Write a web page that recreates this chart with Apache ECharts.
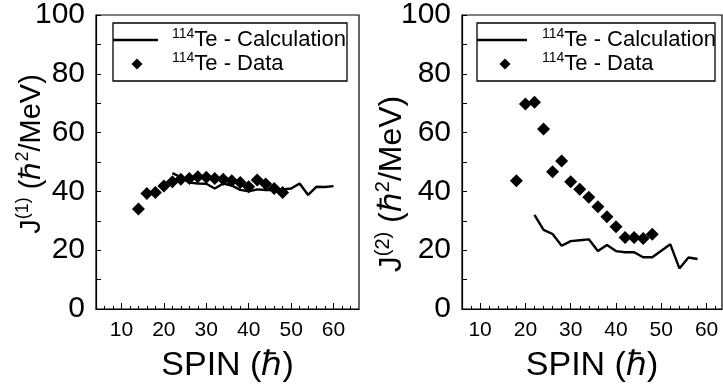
<!DOCTYPE html>
<html>
<head>
<meta charset="utf-8">
<script src="https://cdn.jsdelivr.net/npm/echarts@6/dist/echarts.min.js"></script>
<style>
 html, body { margin: 0; padding: 0; background: #fff; }
 #chart { width: 723px; height: 391px; }
</style>
</head>
<body>
<div id="chart"></div>
<script>
// J(1) panel
const spinData1 = [14, 16, 18, 20, 22, 24, 26, 28, 30, 32, 34, 36, 38, 40, 42, 44, 46, 48]
const j1Data = [34, 39.3, 39.6, 41.8, 43.3, 44.1, 44.4, 45, 44.8, 44.4, 44.1, 43.6, 43, 41.6, 43.9, 42.5, 41, 39.6]
const spinCalc1 = [22, 24, 26, 28, 30, 32, 34, 36, 38, 40, 42, 44, 46, 48, 50, 52, 54, 56, 58, 60]
const j1Calc = [46.2, 44.8, 43, 42.7, 42.6, 41, 42.7, 42, 40.5, 40, 40.7, 40.5, 40.5, 40.7, 41, 42.7, 38.8, 41.6, 41.5, 41.8]

// J(2) panel
const spinData2 = [18, 20, 22, 24, 26, 28, 30, 32, 34, 36, 38, 40, 42, 44, 46, 48]
const j2Data = [43.6, 69.7, 70.3, 61.2, 46.7, 50.3, 43.3, 40.7, 38, 34.8, 31.4, 28, 24.3, 24.3, 24, 25.4]
const spinCalc2 = [22, 24, 26, 28, 30, 32, 34, 36, 38, 40, 42, 44, 46, 48, 50, 52, 54, 56, 58]
const j2Calc = [32, 26.9, 25.5, 21.5, 23.1, 23.4, 23.7, 19.7, 21.8, 19.7, 19.3, 19.3, 17.6, 17.6, 19.8, 22, 13.8, 17.5, 17]

const xLabels = [10, 20, 30, 40, 50, 60]
const yTicks = [0, 20, 40, 60, 80, 100]
const calcName = 'Te - Calculation'
const dataName = 'Te - Data'
const isotope = '114'

const font = '"Liberation Sans", Arial, Helvetica, sans-serif'
const zip = (xs, ys) => xs.map((x, i) => [x, ys[i]])
const minorX = []
for (let s = 4; s <= 66; s += 2) minorX.push(s)

const xAxisFor = function (gridIndex, min, max) {
 return [{
  type: 'value',
  gridIndex: gridIndex,
  min: min,
  max: max,
  position: 'bottom',
  name: 'SPIN (ℏ)',
  nameLocation: 'middle',
  nameGap: 40,
  nameTextStyle: { fontFamily: font, fontSize: 34, color: '#000' },
  axisLine: { show: true, onZero: false, lineStyle: { color: '#000', width: 1.2 } },
  axisTick: { show: true, inside: true, length: 3, customValues: minorX.filter(v => v > min && v < max), lineStyle: { color: '#000' } },
  axisLabel: { customValues: xLabels, fontFamily: font, fontSize: 21, color: '#000', margin: 11 },
  splitLine: { show: false }
 }, {
  type: 'value',
  gridIndex: gridIndex,
  min: min,
  max: max,
  position: 'bottom',
  offset: 0,
  axisLine: { show: false },
  axisTick: { show: true, inside: true, length: 6, customValues: xLabels, lineStyle: { color: '#000' } },
  axisLabel: { show: false },
  splitLine: { show: false }
 }]
}

const yAxisFor = function (gridIndex) {
 return {
  type: 'value',
  gridIndex: gridIndex,
  min: 0,
  max: 100,
  interval: 20,
  axisLine: { show: true, lineStyle: { color: '#000', width: 1.2 } },
  axisTick: { show: true, inside: true, length: 5, lineStyle: { color: '#000' } },
  minorTick: { show: true, splitNumber: 2, length: 5, lineStyle: { color: '#000' } },
  axisLabel: { customValues: yTicks, fontFamily: font, fontSize: 30, color: '#000', margin: 11 },
  splitLine: { show: false }
 }
}

// rotated y titles with superscripts
const yTitle = function (sup, x, y, size) {
 return {
  type: 'text',
  x: x,
  y: y,
  rotation: Math.PI / 2,
  style: {
   text: '{b|J}{s|(' + sup + ')}{b| (ℏ}{s|2}{b|/MeV)}',
   align: 'center',
   verticalAlign: 'middle',
   rich: {
    b: { fontFamily: font, fontSize: size, color: '#000', verticalAlign: 'bottom', lineHeight: size + 3 },
    s: { fontFamily: font, fontSize: Math.round(size * 0.62), color: '#000', verticalAlign: 'top', lineHeight: size + 3 }
   }
  }
 }
}

const legendFor = function (x0, x1, lineEnd, diamondX, textX) {
 const r = 5.5
 const rich = {
  s: { fontFamily: font, fontSize: 14, color: '#000', verticalAlign: 'top', lineHeight: 24 },
  b: { fontFamily: font, fontSize: 22, color: '#000', verticalAlign: 'bottom', lineHeight: 24 }
 }
 return {
  type: 'group',
  children: [
   { type: 'rect', shape: { x: x0, y: 23, width: x1 - x0, height: 58 }, style: { fill: '#fff', stroke: '#000', lineWidth: 1.3 }, z: 10 },
   { type: 'line', shape: { x1: x0, y1: 40, x2: lineEnd, y2: 40 }, style: { stroke: '#000', lineWidth: 2.6 }, z: 11 },
   { type: 'polygon', shape: { points: [[diamondX, 64 - r], [diamondX + r, 64], [diamondX, 64 + r], [diamondX - r, 64]] }, style: { fill: '#000' }, z: 11 },
   { type: 'text', x: textX, y: 39, style: { text: '{s|' + isotope + '}{b|' + calcName + '}', rich: rich, verticalAlign: 'middle' }, z: 11 },
   { type: 'text', x: textX, y: 63, style: { text: '{s|' + isotope + '}{b|' + dataName + '}', rich: rich, verticalAlign: 'middle' }, z: 11 }
  ]
 }
}

const lineSeries = function (idx, xs, ys) {
 return {
  name: calcName,
  type: 'line',
  xAxisIndex: idx * 2,
  yAxisIndex: idx,
  data: zip(xs, ys),
  showSymbol: false,
  symbol: 'none',
  lineStyle: { color: '#000', width: 2.4 },
  z: 3
 }
}
const dataSeries = function (idx, xs, ys) {
 return {
  name: dataName,
  type: 'scatter',
  xAxisIndex: idx * 2,
  yAxisIndex: idx,
  data: zip(xs, ys),
  symbol: 'diamond',
  symbolSize: 13,
  itemStyle: { color: '#000', opacity: 1 },
  z: 4
 }
}

const option = {
 animation: false,
 backgroundColor: '#fff',
 grid: [
  { left: 96, top: 15, width: 263, height: 294, show: true, borderColor: '#000', borderWidth: 1.2, backgroundColor: 'transparent' },
  { left: 462, top: 15, width: 260, height: 294, show: true, borderColor: '#000', borderWidth: 1.2, backgroundColor: 'transparent' }
 ],
 xAxis: xAxisFor(0, 4, 66).concat(xAxisFor(1, 6, 63.4)),
 yAxis: [yAxisFor(0), yAxisFor(1)],
 series: [
  lineSeries(0, spinCalc1, j1Calc),
  dataSeries(0, spinData1, j1Data),
  lineSeries(1, spinCalc2, j2Calc),
  dataSeries(1, spinData2, j2Data)
 ],
 graphic: [
  yTitle(1, 30, 154, 29),
  yTitle(2, 391, 184, 32),
  legendFor(113, 347, 158, 137, 172),
  legendFor(477, 715, 527, 505, 542)
 ]
}

const chart = echarts.init(document.getElementById('chart'), null, { renderer: 'canvas' })
chart.setOption(option)
</script>
</body>
</html>
